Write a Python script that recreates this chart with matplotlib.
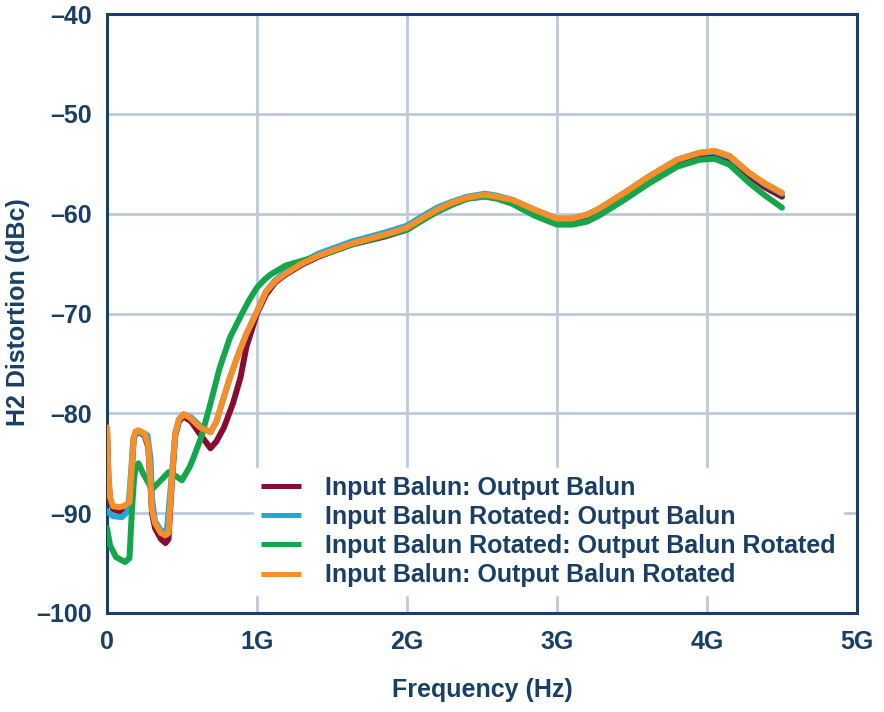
import numpy as np
import matplotlib
matplotlib.use("Agg")
import matplotlib.pyplot as plt

plt.rcParams['font.family'] = ['Liberation Sans', 'DejaVu Sans']
plt.rcParams['font.weight'] = 'bold'

# frequency in GHz, distortion in dBc
f_ib_ob = [0.0, 0.01, 0.02, 0.04, 0.08, 0.12, 0.15, 0.166, 0.178, 0.19, 0.21, 0.25, 0.275, 0.29, 0.30,
           0.32, 0.36, 0.39, 0.41, 0.43, 0.455, 0.48, 0.51, 0.56, 0.63, 0.69, 0.73, 0.78, 0.84, 0.89,
           0.93, 1.0, 1.06, 1.12, 1.19, 1.3, 1.41, 1.63, 1.85, 2.0, 2.12, 2.2, 2.3, 2.4, 2.52, 2.6,
           2.7, 2.85, 3.0, 3.1, 3.2, 3.28, 3.45, 3.61, 3.8, 3.95, 4.05, 4.15, 4.28, 4.38, 4.5]
db_ib_ob = [-81.5, -86.5, -88.6, -89.6, -89.8, -89.8, -89.3, -85.5, -82.6, -82.0, -81.9, -82.2, -83.4,
            -87.2, -90.0, -91.5, -92.6, -93.0, -92.6, -87.4, -82.2, -80.8, -80.3, -80.8, -82.3, -83.5,
            -82.8, -81.4, -79.0, -76.4, -73.3, -70.0, -68.1, -66.9, -66.1, -65.1, -64.3, -63.1, -62.3,
            -61.6, -60.5, -59.8, -59.1, -58.5, -58.2, -58.4, -58.8, -59.9, -60.8, -60.8, -60.4, -59.8,
            -58.2, -56.6, -54.9, -54.2, -54.1, -54.6, -56.2, -57.3, -58.3]

f_ibr_ob = [0.0, 0.04, 0.1, 0.14, 0.16, 0.175, 0.19, 0.21, 0.27, 0.29, 0.30, 0.32, 0.37, 0.40, 0.43,
            0.455, 0.48, 0.51, 0.56, 0.63, 0.69, 0.73, 0.77, 0.82, 0.87, 0.93, 1.0, 1.06, 1.12, 1.19,
            1.3, 1.41, 1.63, 1.85, 2.0, 2.12, 2.2, 2.3, 2.4, 2.52, 2.6, 2.7, 2.85, 3.0, 3.1, 3.2,
            3.28, 3.45, 3.61, 3.8, 3.95, 4.05, 4.15, 4.28, 4.38, 4.5]
db_ibr_ob = [-89.8, -90.3, -90.4, -89.8, -86.0, -82.6, -82.0, -81.9, -82.2, -84.5, -88.5, -90.8, -92.0,
             -91.6, -86.5, -82.0, -80.6, -80.1, -80.4, -81.4, -81.9, -80.8, -78.8, -76.4, -74.3, -72.0,
             -69.8, -67.8, -66.7, -65.8, -64.9, -64.0, -62.8, -61.9, -61.2, -60.1, -59.4, -58.8, -58.3,
             -58.0, -58.2, -58.6, -59.6, -60.5, -60.5, -60.1, -59.5, -57.9, -56.3, -54.6, -53.9, -53.8,
             -54.3, -55.9, -57.0, -58.0]

f_ibr_obr = [0.0, 0.02, 0.06, 0.12, 0.15, 0.165, 0.18, 0.19, 0.21, 0.24, 0.30, 0.36, 0.41, 0.45, 0.50,
             0.55, 0.57, 0.63, 0.69, 0.75, 0.82, 0.90, 0.95, 1.0, 1.05, 1.09, 1.19, 1.35, 1.5, 1.63,
             1.85, 2.0, 2.12, 2.2, 2.3, 2.4, 2.52, 2.6, 2.7, 2.85, 3.0, 3.1, 3.2, 3.28, 3.45, 3.61,
             3.8, 3.95, 4.05, 4.15, 4.28, 4.38, 4.5]
db_ibr_obr = [-91.5, -93.2, -94.4, -94.9, -94.5, -90.0, -86.6, -85.5, -85.0, -86.0, -87.6, -86.7, -85.9,
              -86.2, -86.7, -85.4, -84.7, -82.3, -79.0, -75.5, -72.4, -70.0, -68.6, -67.4, -66.6, -66.1,
              -65.2, -64.5, -63.8, -63.1, -62.2, -61.6, -60.5, -59.8, -59.1, -58.5, -58.3, -58.5, -59.0,
              -60.2, -61.1, -61.1, -60.8, -60.2, -58.6, -57.0, -55.3, -54.6, -54.5, -55.1, -56.9, -58.1,
              -59.4]

f_ib_obr = [0.0, 0.01, 0.02, 0.04, 0.08, 0.11, 0.15, 0.166, 0.178, 0.19, 0.21, 0.25, 0.275, 0.29, 0.30,
            0.32, 0.36, 0.39, 0.41, 0.43, 0.455, 0.48, 0.51, 0.55, 0.62, 0.69, 0.73, 0.77, 0.82, 0.87,
            0.93, 1.0, 1.06, 1.12, 1.19, 1.3, 1.41, 1.63, 1.85, 2.0, 2.12, 2.2, 2.3, 2.4, 2.52, 2.6,
            2.7, 2.85, 3.0, 3.1, 3.2, 3.28, 3.45, 3.61, 3.8, 3.95, 4.05, 4.15, 4.28, 4.38, 4.5]
db_ib_obr = [-81.4, -86.5, -88.4, -89.3, -89.4, -89.3, -88.9, -85.3, -82.4, -81.8, -81.7, -82.0, -83.2,
             -87.0, -89.7, -91.0, -92.0, -92.2, -92.0, -87.0, -82.0, -80.6, -80.1, -80.4, -81.4, -81.9,
             -80.8, -78.8, -76.4, -74.3, -72.0, -69.8, -67.8, -66.8, -66.0, -65.0, -64.2, -63.0, -62.1,
             -61.4, -60.3, -59.6, -58.9, -58.4, -58.1, -58.3, -58.6, -59.6, -60.5, -60.5, -60.1, -59.5,
             -57.9, -56.3, -54.6, -53.9, -53.7, -54.2, -55.9, -56.9, -57.9]

labels = ["Input Balun: Output Balun",
          "Input Balun Rotated: Output Balun",
          "Input Balun Rotated: Output Balun Rotated",
          "Input Balun: Output Balun Rotated"]
colors = ["#8a0b32", "#22a8d6", "#14a64a", "#f68f2a"]

xticks = [0, 1, 2, 3, 4, 5]
xticklabels = ["0", "1G", "2G", "3G", "4G", "5G"]
yticks = [-100, -90, -80, -70, -60, -50, -40]

navy = "#1a3f66"
grid_c = "#bccad8"
fs = 18

fig = plt.figure(figsize=(8.84, 7.12), dpi=100)
ax = fig.add_axes([107 / 884, 1 - 613 / 712, 750 / 884, 599 / 712])

series = [(f_ib_ob, db_ib_ob), (f_ibr_ob, db_ibr_ob), (f_ibr_obr, db_ibr_obr), (f_ib_obr, db_ib_obr)]
for i, (f, d) in enumerate(series):
    ax.plot(f, d, color=colors[i], lw=4.3, label=labels[i], zorder=3 + i,
            solid_capstyle='round', solid_joinstyle='round')

ax.set_xlim(0, 5)
ax.set_ylim(-100, -40)
ax.set_xticks(xticks)
ax.set_xticklabels(xticklabels)
ax.set_yticks(yticks)
ax.set_yticklabels(["–" + str(abs(v)) for v in yticks])
ax.grid(True, color=grid_c, lw=2)
ax.set_axisbelow(True)
ax.tick_params(length=0, labelsize=fs, labelcolor=navy)
ax.tick_params(axis='x', pad=12)
ax.tick_params(axis='y', pad=11)
for s in ax.spines.values():
    s.set_color(navy)
    s.set_linewidth(2.2)

fig.text(482 / 884, 1 - 690 / 712, "Frequency (Hz)", ha='center', va='center',
         fontsize=fs, fontweight='bold', color=navy)
fig.text(18 / 884, 1 - 312 / 712, "H2 Distortion (dBc)", ha='center', va='center',
         rotation=90, fontsize=fs, fontweight='bold', color=navy)

leg = ax.legend(loc='upper left', bbox_to_anchor=(254 / 884, 1 - 468 / 712),
                bbox_transform=fig.transFigure, borderaxespad=0, borderpad=0.3,
                frameon=True, fancybox=False, framealpha=1, edgecolor='white',
                handlelength=1.6, handletextpad=0.95, labelspacing=0.21,
                prop={'size': fs, 'weight': 'bold'})
for t in leg.get_texts():
    t.set_color(navy)
for h in leg.get_lines():
    h.set_linewidth(3.6)
    h.set_solid_capstyle('butt')

fig.savefig("out.png", dpi=100)
